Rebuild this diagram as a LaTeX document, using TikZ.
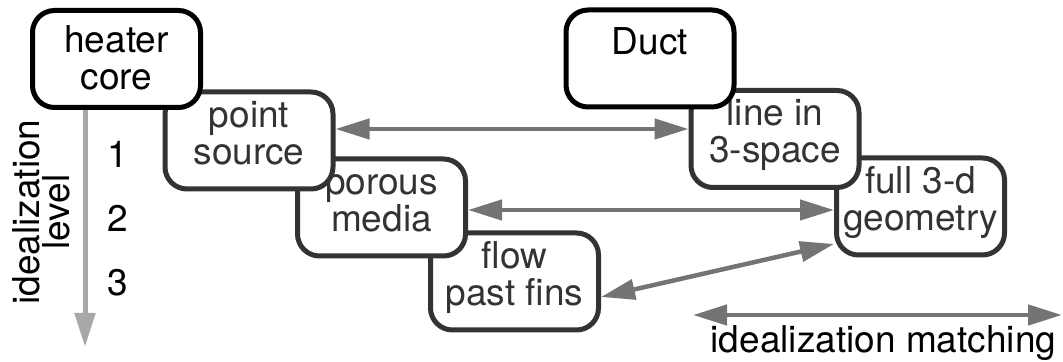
\documentclass[tikz,border=0pt]{standalone}
\usepackage{fontspec}
\setmainfont{TeX Gyre Heros}
\usetikzlibrary{arrows.meta}
\definecolor{boxgray}{HTML}{333333}
\definecolor{matchgray}{HTML}{747474}
\definecolor{levelgray}{HTML}{A8A8A8}
\tikzset{
  box/.style={draw=boxgray, line width=2.5pt, rounded corners=11pt, fill=white,
    minimum width=84pt, minimum height=48.5pt, inner sep=1pt, align=center,
    text=boxgray, text height=31.5pt, text depth=7.5pt},
  topbox/.style={box, draw=black, text=black},
  match/.style={draw=matchgray, line width=2.25pt,
    {Triangle[length=17pt,width=10pt]}-{Triangle[length=17pt,width=10pt]}},
  level/.style={draw=levelgray, line width=2.5pt, -{Triangle[length=17pt,width=10pt]}}
}
\begin{document}
\begin{tikzpicture}[x=0.5pt,y=-0.5pt,font=\fontsize{18.5}{18.5}\selectfont]
\useasboundingbox (0,0) rectangle (1063,362);

% heater core column
\node[box] (flow) at (514.5,281.5) {flow\\past fins};
\node[box] (porous) at (381.5,207.5) {porous\\media};
\node[box] (point) at (249,140.5) {point\\source};
\node[topbox, text depth=0.5pt] (heater) at (116.5,59) {heater\\core};

% duct column
\node[box] (full) at (920.5,206.5) {full 3-d\\geometry};
\node[box] (line) at (775,139) {line in\\3-space};
\node[topbox, text height=13pt, text depth=16.5pt] (duct) at (650,58.5) {Duct};

% levels
\coordinate (levelend) at (85,347);
\draw[level] (heater.south -| levelend) -- (levelend);
\node[rotate=90, align=center] (levellbl) at (41,212) {idealization\\[-3.5pt]level};
\foreach \n/\y in {1/154,2/218,3/283} {
\node (num\n) at (118,\y) {\n};
}

% matching
\draw[match] ([yshift=5.75pt]point.east) -- ([yshift=5.75pt]point.east -| line.west);
\draw[match] ([yshift=-1.25pt]porous.east) -- ([yshift=-1.25pt]porous.east -| full.west);
\draw[match] ([yshift=-7.75pt]flow.east) -- ([yshift=-18.75pt]full.west);

% legend
\coordinate (mleft) at (693,315);
\coordinate (mright) at (1062,315);
\draw[match] (mleft) -- (mright);
\node[anchor=base] (matchlbl) at (883.5,353) {idealization matching};
\end{tikzpicture}
\end{document}
